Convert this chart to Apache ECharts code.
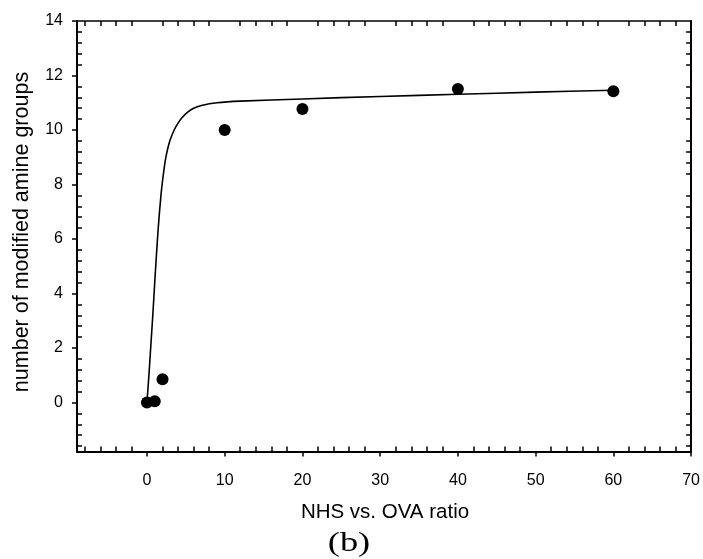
<!DOCTYPE html>
<html>
<head>
<meta charset="utf-8">
<script src="https://cdn.jsdelivr.net/npm/echarts@6/dist/echarts.min.js"></script>
<style>
html,body{margin:0;padding:0;background:#fff;}
#chart{width:703px;height:559px;}
</style>
</head>
<body>
<div id="chart"></div>
<script>
// measured points
const ratioX = [0, 1, 2, 10, 20, 40, 60];
const modifiedAmines = [0, 0.04, 0.85, 10.0, 10.77, 11.5, 11.42];
// fitted curve
const fitX = [0, 0.25, 0.5, 0.75, 1.0, 1.4, 1.8, 2.1, 2.4, 2.7, 3.0, 3.5, 4.0, 4.5, 5.2, 6.0, 7.0, 9.0, 12, 20, 30, 40, 50, 60];
const fitY = [0, 1.0, 2.1, 3.2, 4.4, 6.2, 7.6, 8.35, 8.95, 9.35, 9.65, 10.0, 10.25, 10.45, 10.65, 10.8, 10.9, 11.0, 11.06, 11.14, 11.23, 11.31, 11.39, 11.46];
// tick labels
const xTicks = [0, 10, 20, 30, 40, 50, 60, 70];
const yTicks = [0, 2, 4, 6, 8, 10, 12, 14];
const xMinor = [-8, -6, -4, -2, 2, 4, 6, 8, 12, 14, 16, 18, 22, 24, 26, 28, 32, 34, 36, 38, 42, 44, 46, 48, 52, 54, 56, 58, 62, 64, 66, 68];
const yMinor = [-1.6, -1.2, -0.8, -0.4, 0.4, 0.8, 1.2, 1.6, 2.4, 2.8, 3.2, 3.6, 4.4, 4.8, 5.2, 5.6, 6.4, 6.8, 7.2, 7.6, 8.4, 8.8, 9.2, 9.6, 10.4, 10.8, 11.2, 11.6, 12.4, 12.8, 13.2, 13.6];

const X_MIN = -9, X_MAX = 70, Y_MIN = -1.8, Y_MAX = 14;
const FONT = '"Liberation Sans", Arial, Helvetica, sans-serif';

const chart = echarts.init(document.getElementById('chart'), null, {renderer: 'canvas'});

function xAxisDef(position, opts) {
  return Object.assign({
    type: 'value', position: position, min: X_MIN, max: X_MAX,
    splitLine: {show: false},
    axisLine: {show: true, onZero: false, lineStyle: {color: '#000', width: 2}},
    axisTick: {show: false},
    axisLabel: {show: false}
  }, opts);
}
function yAxisDef(position, opts) {
  return Object.assign({
    type: 'value', position: position, min: Y_MIN, max: Y_MAX,
    splitLine: {show: false},
    axisLine: {show: true, onZero: false, lineStyle: {color: '#000', width: 2}},
    axisTick: {show: false},
    axisLabel: {show: false}
  }, opts);
}

const option = {
  backgroundColor: '#fff',
  animation: false,
  grid: {left: 77, right: 11, top: 21, bottom: 107.5, containLabel: false},
  xAxis: [
    xAxisDef('bottom', {
      axisTick: {show: true, customValues: xTicks, length: 5, inside: false, lineStyle: {color: '#000', width: 1.5}},
      axisLabel: {show: true, customValues: xTicks, margin: 21, fontSize: 16, color: '#000', fontFamily: FONT}
    }),
    xAxisDef('bottom', {
      axisLine: {show: false, onZero: false},
      axisTick: {show: true, customValues: xMinor, length: 5, inside: true, lineStyle: {color: '#000', width: 1.5}}
    }),
    xAxisDef('top', {
      axisLine: {show: true, onZero: false, lineStyle: {color: '#000', width: 1.5}},
      axisTick: {show: true, customValues: xMinor, length: 5, inside: true, lineStyle: {color: '#000', width: 1.5}}
    })
  ],
  yAxis: [
    yAxisDef('left', {
      axisTick: {show: true, customValues: yTicks, length: 5, inside: false, lineStyle: {color: '#000', width: 1.5}},
      axisLabel: {show: true, customValues: yTicks, margin: 14, fontSize: 16, color: '#000', fontFamily: FONT}
    }),
    yAxisDef('left', {
      axisLine: {show: false, onZero: false},
      axisTick: {show: true, customValues: yMinor, length: 5, inside: true, lineStyle: {color: '#000', width: 1.5}}
    }),
    yAxisDef('right', {
      axisTick: {show: true, customValues: yMinor, length: 5, inside: true, lineStyle: {color: '#000', width: 1.5}}
    })
  ],
  series: [
    {
      type: 'line', xAxisIndex: 0, yAxisIndex: 0,
      data: fitX.map((x, i) => [x, fitY[i]]),
      smooth: 0.3, showSymbol: false, symbol: 'none',
      lineStyle: {color: '#000', width: 1.6},
      z: 2
    },
    {
      type: 'scatter', xAxisIndex: 0, yAxisIndex: 0,
      data: ratioX.map((x, i) => [x, modifiedAmines[i]]),
      symbol: 'circle', symbolSize: 12,
      itemStyle: {color: '#000', opacity: 1},
      z: 3
    }
  ],
  graphic: [
    {
      type: 'text', x: 385, y: 512,
      style: {text: 'NHS vs. OVA ratio', fontSize: 20.5, fontFamily: FONT, fill: '#000',
        align: 'center', verticalAlign: 'middle', textAlign: 'center', textVerticalAlign: 'middle'}
    },
    {
      type: 'text', x: 22, y: 232, rotation: Math.PI / 2,
      style: {text: 'number of modified amine groups', fontSize: 21.5, fontFamily: FONT, fill: '#000',
        align: 'center', verticalAlign: 'middle', textAlign: 'center', textVerticalAlign: 'middle'}
    },
    {
      type: 'text', x: 349, y: 544, scaleX: 1.3,
      style: {text: '(b)', fontSize: 28, fontFamily: '"Liberation Serif", "Times New Roman", serif', fill: '#000',
        align: 'center', verticalAlign: 'middle', textAlign: 'center', textVerticalAlign: 'middle'}
    }
  ]
};
chart.setOption(option);
</script>
</body>
</html>
